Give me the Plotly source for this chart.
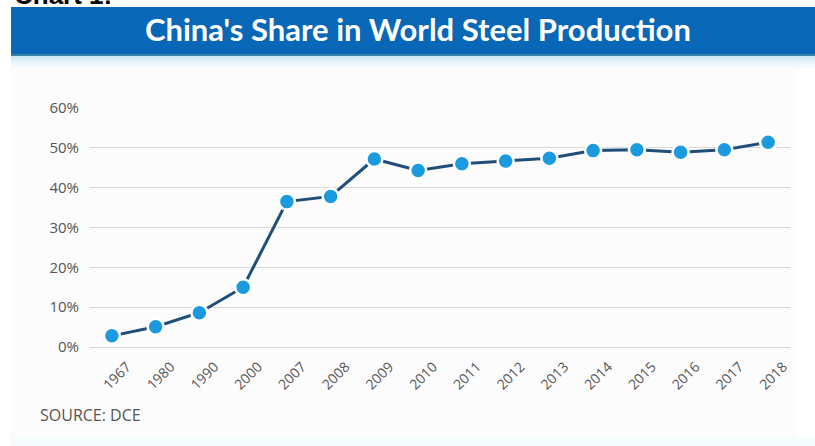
import plotly.graph_objects as go

# China's share of world crude steel output (percent)
years = ["1967", "1980", "1990", "2000", "2007", "2008", "2009", "2010",
         "2011", "2012", "2013", "2014", "2015", "2016", "2017", "2018"]
share = [2.8, 5.1, 8.6, 15.0, 36.5, 37.8, 47.2, 44.3,
         46.0, 46.7, 47.4, 49.3, 49.5, 48.9, 49.5, 51.4]
y_ticks = [0, 10, 20, 30, 40, 50, 60]
y_labels = [f"{v}%" for v in y_ticks]

W, H = 815, 446
L, R, T, B = 90, 790, 108, 347


def px(x):
    return (x - L) / (R - L)


def py(y):
    return (B - y) / (B - T)


GRAY = "#555555"

fig = go.Figure()
fig.add_trace(go.Scatter(
    x=years, y=share, mode="lines+markers",
    line=dict(color="#1f4e79", width=3),
    marker=dict(size=16, color="#1b9ae0", line=dict(color="white", width=2.5)),
    cliponaxis=False, hoverinfo="x+y",
))

shapes = []
# faint panel behind the chart
shapes.append(dict(type="rect", xref="paper", yref="paper", layer="below",
                   x0=px(11), x1=px(797), y0=py(70), y1=py(437),
                   fillcolor="#fcfcfc", line=dict(width=0)))
shapes.append(dict(type="rect", xref="paper", yref="paper", layer="below",
                   x0=px(11), x1=px(815), y0=py(437), y1=py(446),
                   fillcolor="#f6fbfe", line=dict(width=0)))
# title banner
shapes.append(dict(type="rect", xref="paper", yref="paper", layer="below",
                   x0=px(11), x1=px(816), y0=py(7), y1=py(54),
                   fillcolor="#0867b6", line=dict(width=0)))
shapes.append(dict(type="rect", xref="paper", yref="paper", layer="below",
                   x0=px(11), x1=px(816), y0=py(54), y1=py(56),
                   fillcolor="#3a7fa8", line=dict(width=0)))
# light fade under the banner
fade = ["#cde9f8", "#d8eefa", "#e2f2fb", "#eaf6fc", "#f1f9fd", "#f7fbfe", "#fbfdfe"]
for i, c in enumerate(fade):
    shapes.append(dict(type="rect", xref="paper", yref="paper", layer="below",
                       x0=px(11), x1=px(816), y0=py(56 + 2 * i), y1=py(58 + 2 * i),
                       fillcolor=c, line=dict(width=0)))

annotations = [
    dict(text="<b>China's Share in World Steel Production</b>", xref="paper", yref="paper",
         x=px(418), y=py(29), xanchor="center", yanchor="middle", showarrow=False,
         font=dict(family="Lato", size=31, color="white")),
    dict(text="<b>Chart 1:</b>", xref="paper", yref="paper",
         x=px(12), y=py(12), xanchor="left", yanchor="bottom", showarrow=False,
         font=dict(family="Liberation Sans", size=26, color="black")),
    dict(text="SOURCE: DCE", xref="paper", yref="paper",
         x=px(38), y=py(415), xanchor="left", yanchor="middle", showarrow=False,
         font=dict(family="Open Sans", size=16, color=GRAY)),
]

fig.update_layout(
    width=W, height=H,
    margin=dict(l=L, r=W - R, t=T, b=H - B),
    paper_bgcolor="white", plot_bgcolor="rgba(0,0,0,0)",
    showlegend=False,
    shapes=shapes, annotations=annotations,
    xaxis=dict(type="category", range=[-0.5, len(years) - 0.5],
               showgrid=False, zeroline=False, showline=False,
               tickangle=-45, ticklabelshift=15, ticklabelstandoff=8,
               tickfont=dict(family="Open Sans", size=14, color=GRAY)),
    yaxis=dict(range=[0, 60], tickvals=y_ticks, ticktext=y_labels,
               showgrid=True, gridcolor="#d9d9d9", gridwidth=1,
               zeroline=True, zerolinecolor="#d9d9d9", zerolinewidth=1,
               showline=False, ticks="", ticklabelstandoff=10,
               tickfont=dict(family="Open Sans", size=15, color=GRAY)),
)

fig.write_html("out.html")
